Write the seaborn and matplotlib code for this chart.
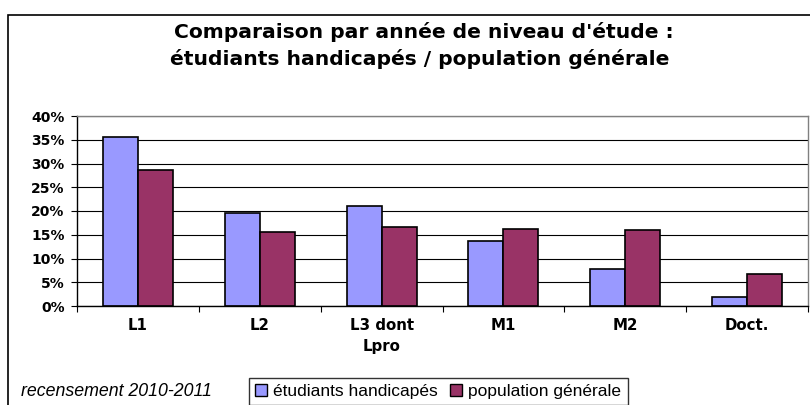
import numpy as np
import pandas as pd
import matplotlib
matplotlib.use("Agg")
import matplotlib.pyplot as plt
import matplotlib.patches as mpatches
import seaborn as sns
from matplotlib.ticker import PercentFormatter, FixedLocator

sns.set_style("white")
plt.rcParams['font.family'] = ['Liberation Sans', 'DejaVu Sans']
plt.rcParams['text.color'] = 'black'
plt.rcParams['xtick.color'] = 'black'
plt.rcParams['ytick.color'] = 'black'
plt.rcParams['axes.labelcolor'] = 'black'

# Data (share of students per year of study)
niveaux = ["L1", "L2", "L3 dont\nLpro", "M1", "M2", "Doct."]
handicapes = [35.5, 19.6, 21.1, 13.6, 7.8, 1.8]
population = [28.6, 15.5, 16.7, 16.2, 15.9, 6.7]
series = ["étudiants handicapés", "population générale"]
couleurs = ["#9999FF", "#993366"]

df = pd.DataFrame({
    "niveau": niveaux * 2,
    "valeur": handicapes + population,
    "serie": [series[0]] * len(niveaux) + [series[1]] * len(niveaux),
})

fig = plt.figure(figsize=(8.1, 4.05), dpi=100)
ax = fig.add_axes([77 / 810, 1 - 306 / 405, (808 - 77) / 810, (306 - 116) / 405])

sns.barplot(data=df, x="niveau", y="valeur", hue="serie", palette=couleurs,
            width=0.575, edgecolor="black", linewidth=1.2, ax=ax,
            saturation=1, legend=False)

ax.set_ylim(0, 40)
ax.set_xlim(-0.5, len(niveaux) - 0.5)
ax.set_yticks(np.arange(0, 41, 5))
ax.yaxis.set_major_formatter(PercentFormatter(decimals=0))
ax.yaxis.grid(True, color="black", linewidth=0.8)
ax.set_axisbelow(True)
ax.set_xlabel("")
ax.set_ylabel("")

# wide bold labels (the original uses letter spacing)
for lab in ax.get_yticklabels():
    lab.set_fontweight("bold")
    lab.set_fontfamily("DejaVu Sans")
    lab.set_fontsize(10)
    lab.set_color("black")
ax.tick_params(axis="y", which="major", direction="out", length=4, width=0.8,
               color="black", pad=5, left=True)
ax.tick_params(axis="x", which="major", length=0, pad=9)
for lab in ax.get_xticklabels():
    lab.set_fontweight("bold")
    lab.set_fontfamily("DejaVu Sans")
    lab.set_fontsize(10.8)
    lab.set_linespacing(1.45)
    lab.set_color("black")

# tick marks between categories
ax.xaxis.set_minor_locator(FixedLocator(np.arange(-0.5, len(niveaux), 1)))
ax.tick_params(axis="x", which="minor", direction="out", length=4, width=0.8,
               color="black", bottom=True)

for side in ["top", "right"]:
    ax.spines[side].set_color("#808080")
    ax.spines[side].set_linewidth(1)
for side in ["left", "bottom"]:
    ax.spines[side].set_color("black")
    ax.spines[side].set_linewidth(1)

# outer frame of the chart area
fig.patches.append(mpatches.Rectangle((8 / 810, -0.1), 1.2, 1.1 - 15 / 405,
                                      transform=fig.transFigure, fill=False,
                                      edgecolor="black", linewidth=1.2))

fig.text(424 / 810, 1 - 32 / 405, "Comparaison par année de niveau d'étude :",
         ha="center", va="center", fontsize=14.6, fontweight="bold",
         family="DejaVu Sans", color="black")
fig.text(420 / 810, 1 - 59 / 405, "étudiants handicapés / population générale",
         ha="center", va="center", fontsize=14.6, fontweight="bold",
         family="DejaVu Sans", color="black")

fig.text(21 / 810, 1 - 391 / 405, "recensement 2010-2011", ha="left",
         va="center", fontsize=12.8, fontstyle="italic", color="black")

handles = [mpatches.Patch(facecolor=c, edgecolor="black", linewidth=1) for c in couleurs]
leg = fig.legend(handles, series, loc="upper left",
                 bbox_to_anchor=(249 / 810, 1 - 378 / 405), ncol=2,
                 fontsize=12.5, frameon=True, fancybox=False, handlelength=0.7,
                 handleheight=0.7, handletextpad=0.35, columnspacing=0.7,
                 borderpad=0.35, borderaxespad=0)
leg.get_frame().set_edgecolor("black")
leg.get_frame().set_linewidth(1)

fig.savefig("out.png", dpi=100)
